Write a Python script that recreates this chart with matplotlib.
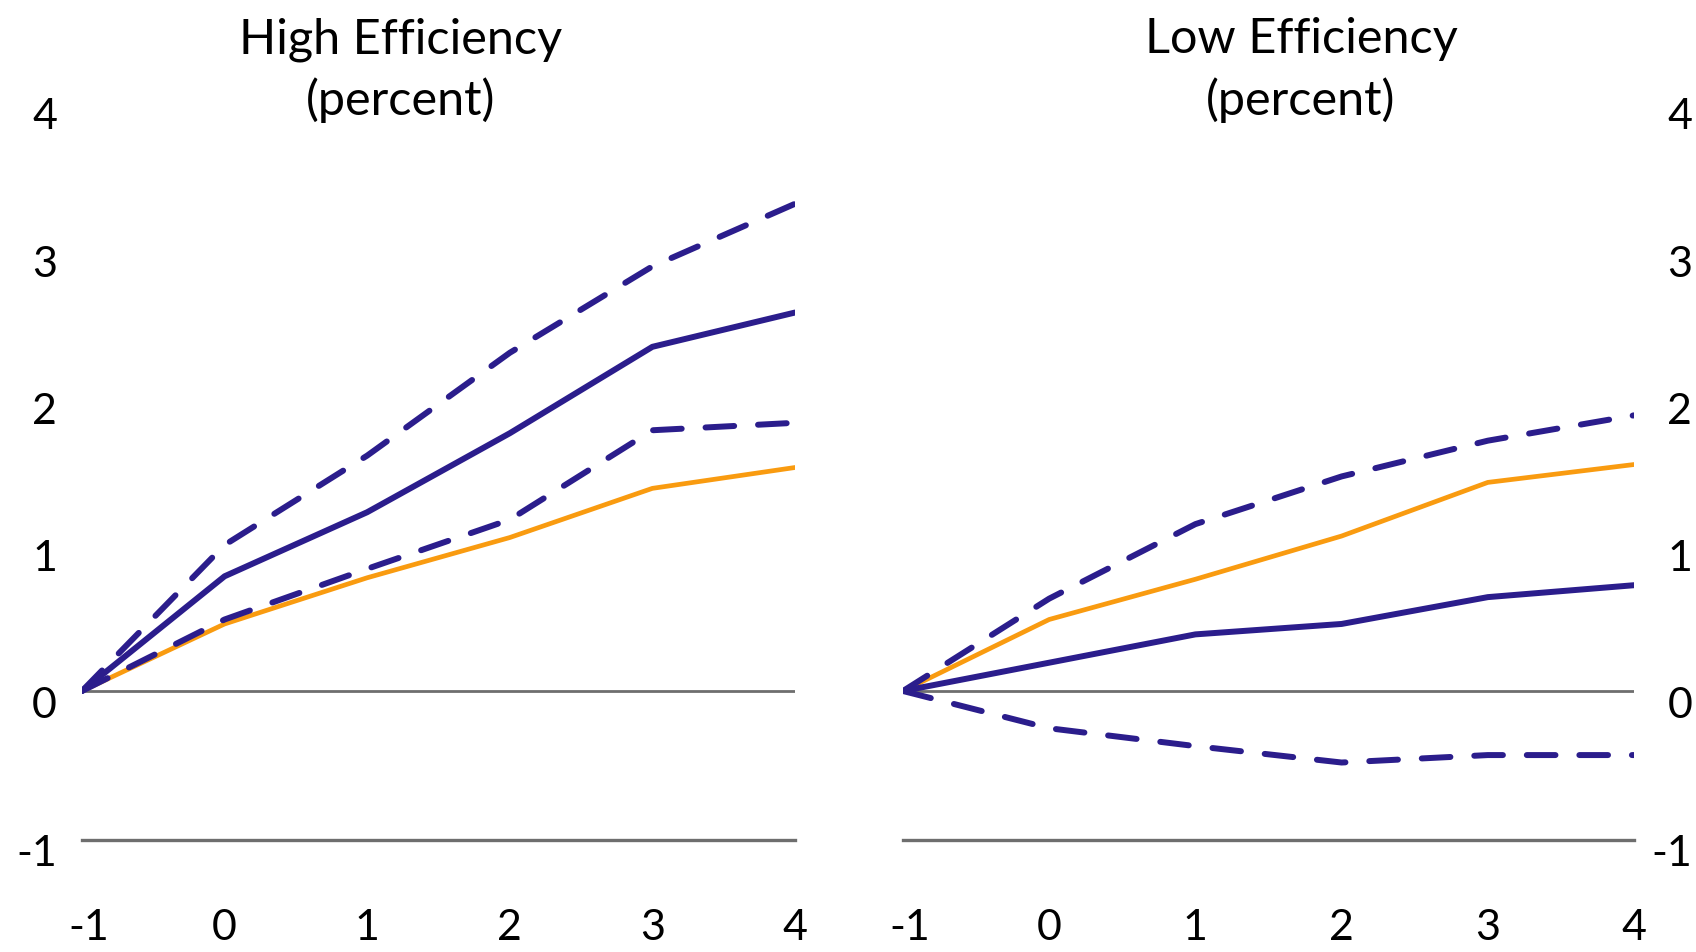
import matplotlib
matplotlib.use("Agg")
import matplotlib.pyplot as plt

plt.rcParams['font.family'] = ['Lato', 'DejaVu Sans']

# Horizon (years relative to the event)
years = [-1, 0, 1, 2, 3, 4]
x_ticks = [-1, 0, 1, 2, 3, 4]
y_ticks = [-1, 0, 1, 2, 3, 4]

# High-efficiency panel
high_ref = [0, 0.45, 0.76, 1.03, 1.36, 1.50]
high_est = [0, 0.77, 1.20, 1.73, 2.31, 2.54]
high_upper = [0, 0.98, 1.58, 2.27, 2.85, 3.27]
high_lower = [0, 0.48, 0.82, 1.15, 1.75, 1.80]

# Low-efficiency panel
low_ref = [0, 0.48, 0.75, 1.04, 1.40, 1.52]
low_est = [0, 0.19, 0.38, 0.45, 0.63, 0.71]
low_upper = [0, 0.62, 1.12, 1.44, 1.68, 1.85]
low_lower = [0, -0.25, -0.37, -0.48, -0.43, -0.43]

titles = ["High Efficiency\n(percent)", "Low Efficiency\n(percent)"]

PURPLE = "#2B1D8C"
ORANGE = "#F99B10"
GRID = "#6E6E6E"
TICK_SIZE = 31

fig = plt.figure(figsize=(16.96, 9.52), dpi=100)

W, H = 1696, 952
def px_axes(x0, x1, y_top, y_bot):
    return fig.add_axes([x0 / W, 1 - y_bot / H, (x1 - x0) / W, (y_bot - y_top) / H])

ax_l = px_axes(82, 795, 95, 840)
ax_r = px_axes(903, 1634, 95, 840)

panels = [
    (ax_l, high_ref, high_est, high_upper, high_lower, 'left'),
    (ax_r, low_ref, low_est, low_upper, low_lower, 'right'),
]

for ax, ref, est, up, lo, side in panels:
    ax.set_xlim(-1, 4)
    ax.set_ylim(-1, 4)
    for s in ax.spines.values():
        s.set_visible(False)
    ax.set_xticks([])
    ax.set_yticks([])
    ax.axhline(0, color=GRID, lw=2.0, zorder=1)
    ax.axhline(-1, color=GRID, lw=2.4, zorder=1, clip_on=False)

    ax.plot(years, ref, color=ORANGE, lw=3.4, zorder=3, solid_capstyle='round')
    ax.plot(years, est, color=PURPLE, lw=4.3, zorder=4, solid_capstyle='round',
            solid_joinstyle='round')
    for band in (up, lo):
        ax.plot(years, band, color=PURPLE, lw=4.3, zorder=4,
                dashes=(4.8, 4.0), dash_capstyle='round')

    # category labels along the bottom (baseline ~100 px below the axis)
    for v in x_ticks:
        dx = 5 if v < 0 else 0
        ax.annotate(str(v), xy=(v, 0), xycoords=ax.get_xaxis_transform(),
                    xytext=(dx, -72), textcoords='offset points',
                    ha='center', va='baseline', fontsize=TICK_SIZE,
                    annotation_clip=False)

    # value labels on the outer side, set slightly below their gridline level
    for v in y_ticks:
        dy = -(12 + 1.7 * v) * 0.72
        if side == 'left':
            ax.annotate(str(v), xy=(0, v), xycoords=ax.get_yaxis_transform(),
                        xytext=(-18, dy), textcoords='offset points',
                        ha='right', va='center_baseline', fontsize=TICK_SIZE,
                        annotation_clip=False)
        else:
            ax.annotate(str(v), xy=(1, v), xycoords=ax.get_yaxis_transform(),
                        xytext=(42, dy), textcoords='offset points',
                        ha='right', va='center_baseline', fontsize=TICK_SIZE,
                        annotation_clip=False)

fig.text(401 / W, 1 - 17 / H, titles[0], ha='center', va='top',
         fontsize=35, linespacing=1.43)
fig.text(1301 / W, 1 - 17 / H, titles[1], ha='center', va='top',
         fontsize=35, linespacing=1.43)

fig.savefig("out.png", dpi=100, facecolor='white')
